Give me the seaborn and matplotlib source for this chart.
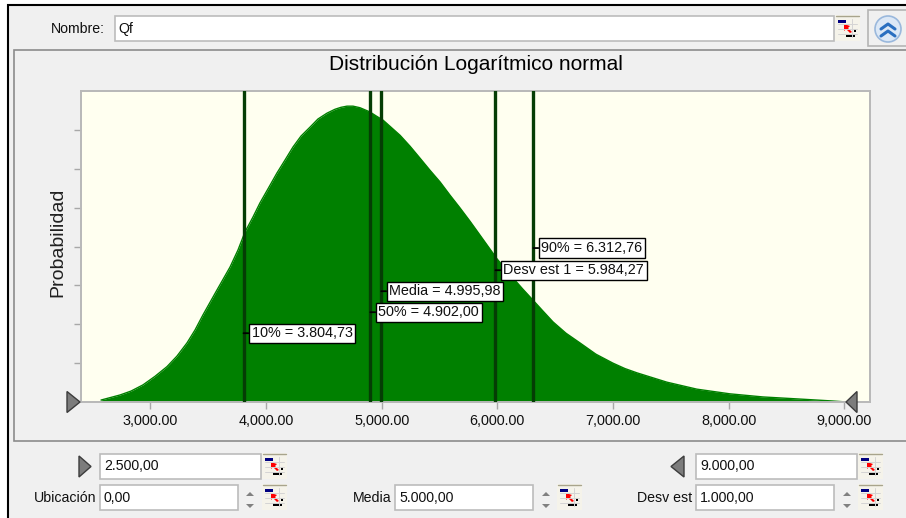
# Distribucion Logaritmico normal - ventana de entrada
import matplotlib
matplotlib.use("Agg")
import matplotlib.pyplot as plt
from matplotlib.patches import Rectangle, Polygon, Circle
import pandas as pd
import seaborn as sns

# datos
curve_x = [2572, 2736, 2831, 2935, 3039, 3143, 3229, 3316, 3385, 3454, 3575, 3688, 3757, 3817,
           3887, 3947, 4016, 4094, 4163, 4233, 4302, 4380, 4449, 4527, 4596, 4648, 4700, 4752,
           4812, 4899, 4951, 5012, 5080, 5159, 5245, 5332, 5418, 5505, 5591, 5678, 5764, 5851,
           5998, 6136, 6222, 6309, 6395, 6482, 6594, 6715, 6853, 7000, 7104, 7208, 7467, 7727,
           8012, 8298, 8592, 8878, 9025]
curve_y = [0.05, 0.18, 0.28, 0.44, 0.66, 0.91, 1.18, 1.52, 1.85, 2.24, 2.88, 3.47, 3.91, 4.37,
           4.76, 5.12, 5.48, 5.89, 6.22, 6.56, 6.84, 7.07, 7.28, 7.43, 7.53, 7.58, 7.61, 7.61,
           7.57, 7.46, 7.36, 7.25, 7.07, 6.86, 6.58, 6.27, 5.96, 5.66, 5.32, 4.99, 4.65, 4.29,
           3.68, 3.19, 2.90, 2.62, 2.34, 2.06, 1.77, 1.52, 1.23, 1.00, 0.86, 0.75, 0.51, 0.33,
           0.21, 0.13, 0.08, 0.03, 0.0]
marker_x = [3804.73, 4902.00, 4995.98, 5984.27, 6312.76]
marker_y = [1.77, 2.31, 2.85, 3.39, 3.96]
marker_labels = ["10% = 3.804,73", "50% = 4.902,00", "Media = 4.995,98",
                 "Desv est 1 = 5.984,27", "90% = 6.312,76"]
x_ticks = [3000, 4000, 5000, 6000, 7000, 8000, 9000]
x_tick_labels = ["3,000.00", "4,000.00", "5,000.00", "6,000.00", "7,000.00", "8,000.00", "9,000.00"]
y_ticks = [1, 2, 3, 4, 5, 6, 7]

df = pd.DataFrame({"x": curve_x, "y": curve_y})

sns.set_theme(style="white")
plt.rcParams["font.family"] = ["Liberation Sans", "DejaVu Sans"]

W, H = 906, 518
GREEN = "#008000"
DARK = "#053d05"
GRAY = "#a8a8a8"
fig = plt.figure(figsize=(W / 100, H / 100), dpi=100, facecolor="white")


def pixel_axes(z):
    a = fig.add_axes([0, 0, 1, 1], zorder=z)
    a.set_xlim(0, W)
    a.set_ylim(H, 0)
    a.axis("off")
    a.patch.set_alpha(0)
    return a


bg = pixel_axes(0)
top = pixel_axes(3)


def box(a, x0, y0, x1, y1, fc="white", ec="#bcbcbc", lw=1.2):
    a.add_patch(Rectangle((x0, y0), x1 - x0, y1 - y0, fc=fc, ec=ec, lw=lw))


def icon(a, x, y):
    # boton de referencia a celda
    box(a, x, y, x + 25, y + 26, fc="#f5f3ea", ec="none", lw=0)
    a.plot([x + 1, x + 24], [y + 1, y + 1], color="#a8a48c", lw=1)
    for i in range(1, 4):
        a.plot([x + 3, x + 22], [y + 4 + i * 5, y + 4 + i * 5], color="#d4d4d4", lw=0.7)
    a.plot([x + 17, x + 17], [y + 4, y + 22], color="#d4d4d4", lw=0.7)
    box(a, x + 3, y + 5, x + 11, y + 8, fc="#000080", ec="none", lw=0)
    box(a, x + 11, y + 19, x + 20, y + 22, fc="black", ec="none", lw=0)
    box(a, x + 19, y + 14, x + 21, y + 17, fc="black", ec="none", lw=0)
    a.add_patch(Polygon([(x + 9, y + 9), (x + 15, y + 11), (x + 13, y + 13),
                         (x + 17, y + 17), (x + 15, y + 18), (x + 11, y + 14), (x + 9, y + 16)],
                        fc="red", ec="none"))


def spinner(a, x, y):
    a.add_patch(Polygon([(x - 4, y - 1), (x + 4, y - 1), (x, y - 5)], fc="#808080", ec="none"))
    a.add_patch(Polygon([(x - 4, y + 7), (x + 4, y + 7), (x, y + 11)], fc="#808080", ec="none"))


def tri_right(a, x0, x1, yc, half=10.5):
    a.add_patch(Polygon([(x0, yc - half), (x1, yc), (x0, yc + half)], fc="#7c7c7c", ec="#3c3c3c", lw=1))


def tri_left(a, x0, x1, yc, half=10.5):
    a.add_patch(Polygon([(x1, yc - half), (x0, yc), (x1, yc + half)], fc="#7c7c7c", ec="#3c3c3c", lw=1))


def ui_text(a, x, y, s, ha="left", size=10.2):
    a.text(x, y, s, ha=ha, va="center", fontsize=size, color="#101010")


# marco de la ventana
bg.add_patch(Rectangle((8, 5), W, H, fc="#f0f0f0", ec="black", lw=1.5))
box(bg, 14, 50, W + 5, 441, fc="#f0f0f0", ec="#8c8c8c", lw=1.2)

# fila del nombre
ui_text(bg, 105, 29, "Nombre:", ha="right")
box(bg, 115, 16, 834, 41)
ui_text(bg, 118, 29, "Qf")
icon(bg, 835, 15)
box(bg, 868, 10, W + 5, 46, fc="#f0f0f0", ec="#b4b4b4")
bg.add_patch(Circle((888, 29), 13, fc="#dce8f6", ec="#9ab8dc", lw=1.2))
for dy in (-5, 2):
    bg.plot([881, 888, 895], [29 + dy + 5, 29 + dy, 29 + dy + 5], color="#2a6fc0", lw=2.2)

bg.text(475.5, 64, "Distribución Logarítmico normal", ha="center", va="center", fontsize=15, color="black")

# grafico
ax = fig.add_axes([81 / W, 1 - 402 / H, (870 - 81) / W, (402 - 91) / H], zorder=1)
ax.set_facecolor("#fffff0")
sns.lineplot(data=df, x="x", y="y", color=GREEN, lw=1, ax=ax)
ax.fill_between(curve_x, curve_y, 0, color=GREEN, lw=0)
for xv in marker_x:
    ax.axvline(xv, color=DARK, lw=2.4, zorder=3)
ax.set_xlim(2399, 9224)
ax.set_ylim(0, 8)
ax.set_xticks(x_ticks)
ax.set_xticklabels(x_tick_labels, fontsize=10.4, color="#101010")
ax.set_yticks(y_ticks)
ax.set_yticklabels([])
ax.tick_params(axis="both", length=5, width=1, color=GRAY, bottom=True, left=True, pad=3.5)
ax.set_xlabel("")
ax.set_ylabel("Probabilidad", fontsize=14, color="#202020")
ax.yaxis.set_label_coords(-15 / 789, 160 / 311)
for s in ax.spines.values():
    s.set_color("#b8b8b8")
    s.set_linewidth(1.4)

for xv, yv, lab in zip(marker_x, marker_y, marker_labels):
    ax.annotate(lab, xy=(xv, yv), xytext=(8, 0), textcoords="offset pixels", va="center", ha="left",
                fontsize=10.4, color="#101010", zorder=5,
                bbox=dict(boxstyle="square,pad=0.18", fc="white", ec="black", lw=1),
                arrowprops=dict(arrowstyle="-", color="black", lw=1.3, shrinkA=0, shrinkB=0))

# triangulos del rango
tri_right(top, 67, 80, 402)
tri_left(top, 846, 857, 402)

# controles inferiores
tri_right(bg, 79, 91, 466.5)
box(bg, 100, 454, 261, 479)
ui_text(bg, 104, 466.5, "2.500,00")
icon(bg, 262, 453)
ui_text(bg, 96, 497.5, "Ubicación", ha="right")
box(bg, 100, 485, 238, 510)
ui_text(bg, 104, 497.5, "0,00")
spinner(bg, 250, 497)
icon(bg, 262, 484)

ui_text(bg, 392, 497.5, "Media", ha="right")
box(bg, 395, 485, 533, 510)
ui_text(bg, 399, 497.5, "5.000,00")
spinner(bg, 546, 497)
icon(bg, 557, 484)

tri_left(bg, 671, 684, 466.5)
box(bg, 696, 454, 857, 479)
ui_text(bg, 700, 466.5, "9.000,00")
icon(bg, 858, 453)
ui_text(bg, 692, 497.5, "Desv est", ha="right")
box(bg, 696, 485, 834, 510)
ui_text(bg, 700, 497.5, "1.000,00")
spinner(bg, 847, 497)
icon(bg, 858, 484)

fig.savefig("out.png", dpi=100)
